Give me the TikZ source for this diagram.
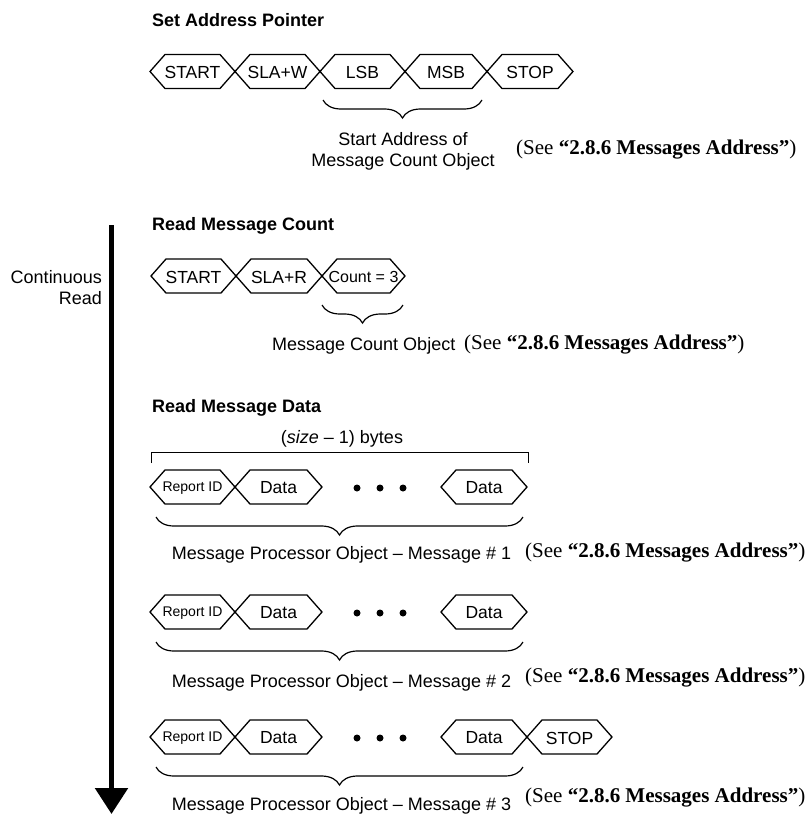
\documentclass[tikz,border=0pt]{standalone}
\usepackage{fontspec}
\setmainfont{Liberation Sans}
\newfontfamily\seriffam{Liberation Serif}
\usetikzlibrary{arrows.meta,decorations.pathreplacing}
\tikzset{
  hexline/.style={line width=1.3pt, line join=miter},
  lbl/.style={inner sep=0pt, font=\fontsize{17.5}{21}\selectfont},
  smalllbl/.style={inner sep=0pt, font=\fontsize{14}{16}\selectfont},
  countlbl/.style={inner sep=0pt, font=\fontsize{16}{18}\selectfont},
  heading/.style={inner sep=0pt, anchor=west, font=\fontsize{18}{21}\bfseries\selectfont},
  txt/.style={inner sep=0pt, font=\fontsize{18}{21}\selectfont},
  seetxt/.style={inner sep=0pt, anchor=west, font=\fontsize{21}{24}\seriffam\selectfont},
  bracestyle/.style={line width=1.2pt, decorate, decoration={brace, mirror, amplitude=18pt}},
  dot/.style={fill=black},
}
% name, x-left, x-right, y, style, text
\newcommand\hexbox[6]{%
  \draw[hexline] (#2,#4) -- (#2+15,#4-17) -- (#3-15,#4-17) -- (#3,#4) -- (#3-15,#4+17) -- (#2+15,#4+17) -- cycle;
  \node[#5] (#1) at ({(#2+#3)/2},#4+1) {#6};}
\newcommand\seeref{(See \textbf{“2.8.6 Messages Address”})}
\begin{document}
\begin{tikzpicture}[x=1pt,y=-1pt]
\useasboundingbox (0,0) rectangle (811,814);

% ---------- Set Address Pointer ----------
\node[heading] (h1) at (152,20) {Set Address Pointer};
\hexbox{a1}{150}{235}{71.5}{lbl}{START}
\hexbox{a2}{235}{320}{71.5}{lbl}{SLA+W}
\hexbox{a3}{320}{405}{71.5}{lbl}{LSB}
\hexbox{a4}{405}{487}{71.5}{lbl}{MSB}
\hexbox{a5}{487}{573}{71.5}{lbl}{STOP}
\coordinate (b1l) at (323,100);
\coordinate (b1r) at (482,100);
\draw[bracestyle] (b1l) -- (b1r);
\node[txt, align=center] (t1) at (403,151) {Start Address of\\Message Count Object};
\node[seetxt] (s1) at (516,149.5) {\seeref};

% ---------- Continuous read arrow ----------
\coordinate (arrtop) at (111.5,225);
\coordinate (arrtip) at (111.5,814);
\draw[line width=5.5pt, -{Triangle[width=32pt,length=26pt]}] (arrtop) -- (arrtip);
\node[txt, anchor=east, align=right] (cr) at (102,288) {Continuous\\Read};

% ---------- Read Message Count ----------
\node[heading] (h2) at (152,226) {Read Message Count};
\hexbox{c1}{151}{236}{276}{lbl}{START}
\hexbox{c2}{236}{322}{276}{lbl}{SLA+R}
\hexbox{c3}{322}{405}{276}{countlbl}{Count = 3}
\coordinate (b2l) at (322,305);
\coordinate (b2r) at (403,305);
\draw[bracestyle] (b2l) -- (b2r);
\node[txt, anchor=west] (t2) at (272,346) {Message Count Object};
\node[seetxt] (s2) at (464,345) {\seeref};

% ---------- Read Message Data ----------
\node[heading] (h3) at (152,408) {Read Message Data};
\node[txt] (sz) at (342,438.5) {(\textit{size} – 1) bytes};
\coordinate (bkl) at (151,463);
\coordinate (bkr) at (528,463);
\draw[line width=1pt] (bkl) -- ++(0,-11) -| (bkr);

% Message 1
\hexbox{m1a}{150}{235}{487}{smalllbl}{Report ID}
\hexbox{m1b}{235}{322}{487}{lbl}{Data}
\fill[dot] (357,488) circle[radius=3.5pt] (380,488) circle[radius=3.5pt] (403,488) circle[radius=3.5pt];
\hexbox{m1c}{441}{527}{487}{lbl}{Data}
\coordinate (b3l) at (156,517);
\coordinate (b3r) at (523,517);
\draw[bracestyle] (b3l) -- (b3r);
\node[txt] (t3) at (341.5,554.5) {Message Processor Object – Message \# 1};
\node[seetxt] (s3) at (525,553) {\seeref};

% Message 2
\hexbox{m2a}{150}{235}{612}{smalllbl}{Report ID}
\hexbox{m2b}{235}{322}{612}{lbl}{Data}
\fill[dot] (357,613) circle[radius=3.5pt] (380,613) circle[radius=3.5pt] (403,613) circle[radius=3.5pt];
\hexbox{m2c}{441}{527}{612}{lbl}{Data}
\coordinate (b4l) at (156,642);
\coordinate (b4r) at (523,642);
\draw[bracestyle] (b4l) -- (b4r);
\node[txt] (t4) at (341.5,682.5) {Message Processor Object – Message \# 2};
\node[seetxt] (s4) at (525,678) {\seeref};

% Message 3
\hexbox{m3a}{150}{235}{737}{smalllbl}{Report ID}
\hexbox{m3b}{235}{322}{737}{lbl}{Data}
\fill[dot] (357,738) circle[radius=3.5pt] (380,738) circle[radius=3.5pt] (403,738) circle[radius=3.5pt];
\hexbox{m3c}{441}{527}{737}{lbl}{Data}
\hexbox{m3d}{527}{612}{737}{lbl}{STOP}
\coordinate (b5l) at (156,767);
\coordinate (b5r) at (523,767);
\draw[bracestyle] (b5l) -- (b5r);
\node[txt] (t5) at (341.5,806) {Message Processor Object – Message \# 3};
\node[seetxt] (s5) at (525,797.5) {\seeref};
\end{tikzpicture}
\end{document}
